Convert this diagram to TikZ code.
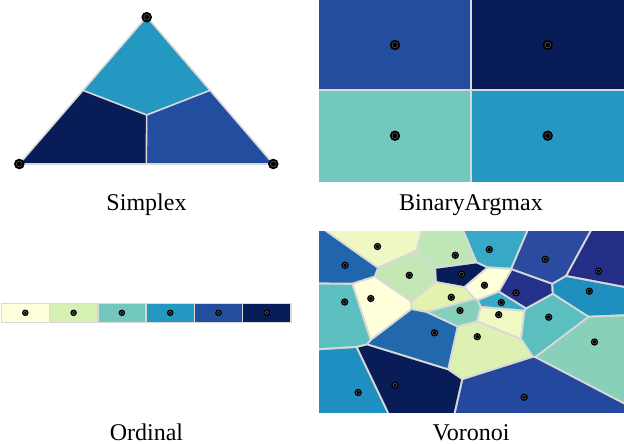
\documentclass[tikz,border=0pt]{standalone}
\usepackage{fontspec}
\setmainfont{Liberation Serif}
\usetikzlibrary{calc}
\definecolor{edgegray}{HTML}{D9D9D9}
\definecolor{ylA}{HTML}{FFFFD9}
\definecolor{ylB}{HTML}{D6EFB3}
\definecolor{ylC}{HTML}{73C8BD}
\definecolor{ylD}{HTML}{2498C1}
\definecolor{ylE}{HTML}{234EA0}
\definecolor{ylF}{HTML}{081D58}
\definecolor{v1}{HTML}{EFF8C2}
\definecolor{v2}{HTML}{2166AC}
\definecolor{v3}{HTML}{BFE6B6}
\definecolor{v4}{HTML}{37A9C7}
\definecolor{v5}{HTML}{2A4B9F}
\definecolor{v6}{HTML}{232E87}
\definecolor{v7}{HTML}{C3E7B5}
\definecolor{v8}{HTML}{081D58}
\definecolor{v9}{HTML}{FFFFD9}
\definecolor{v10}{HTML}{24318B}
\definecolor{v11}{HTML}{1F8FC0}
\definecolor{v12}{HTML}{5CC0C0}
\definecolor{v13}{HTML}{FFFFDA}
\definecolor{v14}{HTML}{E2F3B0}
\definecolor{v15}{HTML}{3AABC7}
\definecolor{v16}{HTML}{86CFBA}
\definecolor{v17}{HTML}{F1F9C3}
\definecolor{v18}{HTML}{5BBFC0}
\definecolor{v19}{HTML}{2168AC}
\definecolor{v20}{HTML}{DDF1B2}
\definecolor{v21}{HTML}{88D0BA}
\definecolor{v22}{HTML}{1E8FC0}
\definecolor{v23}{HTML}{081D58}
\definecolor{v24}{HTML}{23489E}
\def\seedlist{377.5/246.5,345/265.3,455.3/255.3,489.3/249.5,545.3/259.3,598.5/271.2,409.3/275.3,461.5/274.2,484.5/285.3,516/292.8,589.3/291.2,344.7/302,370.8/298.5,451.3/297.3,501.3/302.5,460/310.5,498.7/314.7,548.7/317.2,434.5/332.8,477.3/336.7,594.5/342,358.2/392.5,395/385.3,524.2/397.2}
\def\seedcolorlist{377.5/246.5/v1,345/265.3/v2,455.3/255.3/v3,489.3/249.5/v4,545.3/259.3/v5,598.5/271.2/v6,409.3/275.3/v7,461.5/274.2/v8,484.5/285.3/v9,516/292.8/v10,589.3/291.2/v11,344.7/302/v12,370.8/298.5/v13,451.3/297.3/v14,501.3/302.5/v15,460/310.5/v16,498.7/314.7/v17,548.7/317.2/v18,434.5/332.8/v19,477.3/336.7/v20,594.5/342/v21,358.2/392.5/v22,395/385.3/v23,524.2/397.2/v24}
\newcommand\vorcell[3]{%
  \begin{scope}
    \clip (319,230.5) rectangle (624,412.5);
    \foreach \qx/\qy in \seedlist {%
      \pgfmathsetmacro\vora{(\qx-#1)/100}%
      \pgfmathsetmacro\vorb{(\qy-#2)/100}%
      \pgfmathsetmacro\vorn{sqrt(0.1681*\vora*\vora+\vorb*\vorb)}%
      \ifdim \vorn pt>0.001pt
        \pgfmathsetmacro\vnx{0.41*\vora/\vorn}%
        \pgfmathsetmacro\vny{\vorb/\vorn}%
        \pgfmathsetmacro\vmx{(\qx+#1)/2-1.1*\vnx}%
        \pgfmathsetmacro\vmy{(\qy+#2)/2-1.1*\vny}%
        \pgfmathsetmacro\vax{\vmx-600*\vny}%
        \pgfmathsetmacro\vay{\vmy+600*\vnx}%
        \pgfmathsetmacro\vbx{\vmx+600*\vny}%
        \pgfmathsetmacro\vby{\vmy-600*\vnx}%
        \pgfmathsetmacro\vcx{\vbx-600*\vnx}%
        \pgfmathsetmacro\vcy{\vby-600*\vny}%
        \pgfmathsetmacro\vdx{\vax-600*\vnx}%
        \pgfmathsetmacro\vdy{\vay-600*\vny}%
        \clip (\vax,\vay) -- (\vbx,\vby) -- (\vcx,\vcy) -- (\vdx,\vdy) -- cycle;
      \fi
    }
    \fill[#3] (319,230.5) rectangle (624,412.5);
  \end{scope}}
\tikzset{
  lbl/.style={font=\fontsize{24}{29}\selectfont, anchor=base, inner sep=0pt, text depth=0pt},
  gline/.style={draw=edgegray, line width=1.6pt},
}
\newcommand\mrk[3]{%
  \fill[black] (#1,#2) circle (#3);
  \draw[black!60, line width=0.45pt] (#1,#2) circle ({0.55*#3});}
\begin{document}
\begin{tikzpicture}[x=1pt,y=-1pt]
\useasboundingbox (0,0) rectangle (624,444);
% ---------- Simplex ----------
\coordinate (sT) at (146.7,16.7);
\coordinate (sL) at (19.3,164);
\coordinate (sR) at (273.3,164);
\coordinate (sC) at (146.7,115);
\coordinate (mL) at ($(sT)!0.5!(sL)$);
\coordinate (mR) at ($(sT)!0.5!(sR)$);
\coordinate (mB) at ($(sL)!0.5!(sR)$);
\fill[ylD] (sT) -- (mL) -- (sC) -- (mR) -- cycle;
\fill[ylF] (mL) -- (sL) -- (mB) -- (sC) -- cycle;
\fill[ylE] (mR) -- (sR) -- (mB) -- (sC) -- cycle;
\draw[gline] (mL) -- (sC) -- (mR) (sC) -- (mB);
\draw[gline, line join=round] (sT) -- (sL) -- (sR) -- cycle;
\mrk{146.7}{17.2}{5.3}
\mrk{19.3}{164}{5.3}
\mrk{273.3}{164}{5.3}
\node[lbl] (tsimplex) at (146.5,210.7) {Simplex};
% ---------- BinaryArgmax ----------
\fill[ylE] (319,0) rectangle (471,90);
\fill[ylF] (471,0) rectangle (624,90);
\fill[ylC] (319,90) rectangle (471,182);
\fill[ylD] (471,90) rectangle (624,182);
\draw[gline] (471,0) -- (471,182) (319,90) -- (624,90);
\mrk{395}{45}{5.2}
\mrk{547.7}{45}{5.2}
\mrk{395}{135.7}{5.2}
\mrk{547.7}{135.7}{5.2}
\node[lbl] (tbinary) at (471,210.7) {BinaryArgmax};
% ---------- Ordinal ----------
\fill[edgegray] (1,302.8) rectangle (291.5,322.8);
\foreach \i/\c in {0/ylA,1/ylB,2/ylC,3/ylD,4/ylE,5/ylF} {
  \fill[\c] ({1.9+48.3*\i},303.8) rectangle ({1.9+48.3*\i+46.8},321.8);
  \mrk{{1.9+48.3*\i+23.4}}{312.8}{3.3}
}
\node[lbl] (tordinal) at (146.5,440) {Ordinal};
% ---------- Voronoi ----------
\fill[edgegray] (319,230.5) rectangle (624,412.5);
\foreach \sx/\sy/\sc in \seedcolorlist {\vorcell{\sx}{\sy}{\sc}}
\foreach \sx/\sy in \seedlist {\mrk{\sx}{\sy}{3.7}}
\node[lbl] (tvoronoi) at (471,440) {Voronoi};
\end{tikzpicture}
\end{document}
